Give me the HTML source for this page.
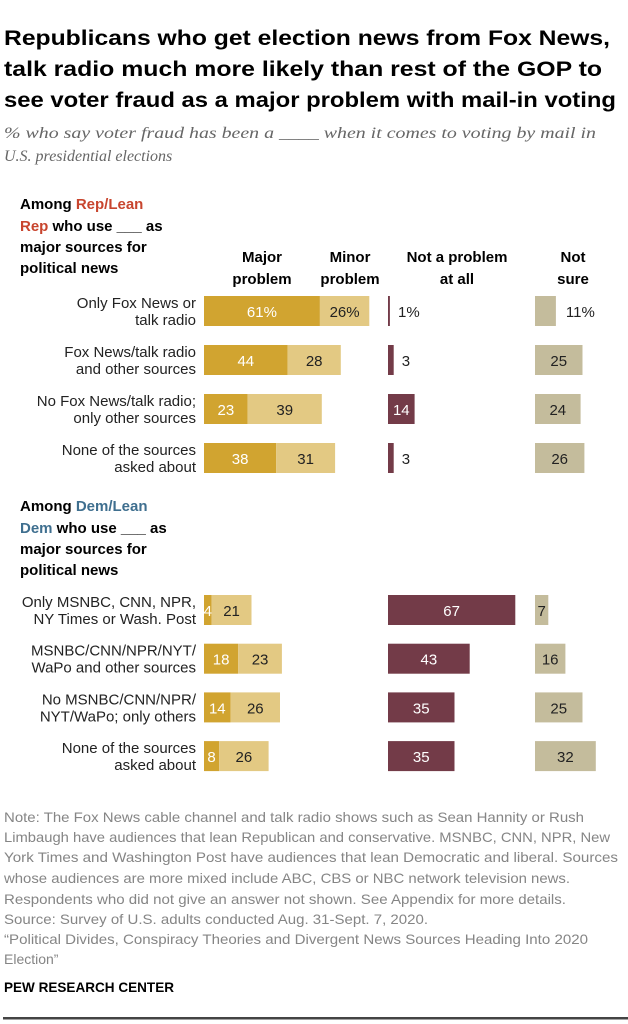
<!DOCTYPE html>
<html><head><meta charset="utf-8"><style>
html,body{margin:0;padding:0;background:#fff;}
svg{display:block;font-family:"Liberation Sans",sans-serif;}
</style></head><body>
<svg id="chart" width="628" height="1024" viewBox="0 0 628 1024">
<g font-weight="bold" font-size="21" fill="#000">
<text x="4" y="45" textLength="606" lengthAdjust="spacingAndGlyphs">Republicans who get election news from Fox News,</text>
<text x="4" y="76" textLength="598" lengthAdjust="spacingAndGlyphs">talk radio much more likely than rest of the GOP to</text>
<text x="4" y="107" textLength="612" lengthAdjust="spacingAndGlyphs">see voter fraud as a major problem with mail-in voting</text>
</g>
<g font-family="Liberation Serif,serif" font-style="italic" font-size="16" fill="#666">
<text x="4" y="138" textLength="592" lengthAdjust="spacingAndGlyphs">% who say voter fraud has been a ____ when it comes to voting by mail in</text>
<text x="4" y="161">U.S. presidential elections</text>
</g>
<g font-weight="bold" font-size="15" fill="#000">
<text x="20" y="209">Among <tspan fill="#c8452e">Rep/Lean</tspan></text>
<text x="20" y="231"><tspan fill="#c8452e">Rep</tspan> who use ___ as</text>
<text x="20" y="252">major sources for</text>
<text x="20" y="273">political news</text>
</g>
<g font-weight="bold" font-size="15" fill="#000">
<text x="20" y="511">Among <tspan fill="#3f6f8f">Dem/Lean</tspan></text>
<text x="20" y="533"><tspan fill="#3f6f8f">Dem</tspan> who use ___ as</text>
<text x="20" y="554">major sources for</text>
<text x="20" y="575">political news</text>
</g>
<g font-weight="bold" font-size="15" fill="#000" text-anchor="middle">
<text x="262" y="262">Major</text><text x="262" y="284">problem</text>
<text x="350" y="262">Minor</text><text x="350" y="284">problem</text>
<text x="457" y="262">Not a problem</text><text x="457" y="284">at all</text>
<text x="573" y="262">Not</text><text x="573" y="284">sure</text>
</g>
<g id="bars"></g>
<g font-size="14" fill="#858585">
<text x="4" y="822" textLength="580" lengthAdjust="spacingAndGlyphs">Note: The Fox News cable channel and talk radio shows such as Sean Hannity or Rush</text>
<text x="4" y="842" textLength="606" lengthAdjust="spacingAndGlyphs">Limbaugh have audiences that lean Republican and conservative. MSNBC, CNN, NPR, New</text>
<text x="4" y="862" textLength="614" lengthAdjust="spacingAndGlyphs">York Times and Washington Post have audiences that lean Democratic and liberal. Sources</text>
<text x="4" y="883" textLength="566" lengthAdjust="spacingAndGlyphs">whose audiences are more mixed include ABC, CBS or NBC network television news.</text>
<text x="4" y="904" textLength="562" lengthAdjust="spacingAndGlyphs">Respondents who did not give an answer not shown. See Appendix for more details.</text>
<text x="4" y="924" textLength="424" lengthAdjust="spacingAndGlyphs">Source: Survey of U.S. adults conducted Aug. 31-Sept. 7, 2020.</text>
<text x="4" y="944" textLength="584" lengthAdjust="spacingAndGlyphs">“Political Divides, Conspiracy Theories and Divergent News Sources Heading Into 2020</text>
<text x="4" y="964">Election”</text>
</g>
<text x="4" y="992" font-weight="bold" font-size="14" fill="#000" textLength="170" lengthAdjust="spacingAndGlyphs">PEW RESEARCH CENTER</text>
<rect x="3" y="1017" width="625" height="2.5" fill="#444"/>
</svg>
<script>
const labels1 = ["Only Fox News or|talk radio","Fox News/talk radio|and other sources","No Fox News/talk radio;|only other sources","None of the sources|asked about"];
const labels2 = ["Only MSNBC, CNN, NPR,|NY Times or Wash. Post","MSNBC/CNN/NPR/NYT/|WaPo and other sources","No MSNBC/CNN/NPR/|NYT/WaPo; only others","None of the sources|asked about"];
const majorVals = [61,44,23,38,4,18,14,8];
const minorVals = [26,28,39,31,21,23,26,26];
const notProbVals = [1,3,14,3,67,43,35,35];
const notSureVals = [11,25,24,26,7,16,25,32];
const rowLabels = labels1.concat(labels2);
const NS='http://www.w3.org/2000/svg';
const g=document.getElementById('bars');
const k=1.9;
const xNP=388, xNS=535;
const rowY=i=>i<4?296+i*49:595+(i-4)*48.7;
const bh=30;
function mk(tag,attrs,parent){const e=document.createElementNS(NS,tag);for(const a in attrs)e.setAttribute(a,attrs[a]);(parent||g).appendChild(e);return e;}
function txt(x,y,s,fill,anchor){const t=mk('text',{x:x,y:y,fill:fill,'font-size':15,'text-anchor':anchor||'middle'});t.textContent=s;return t;}
for(let i=0;i<8;i++){
  const y=rowY(i);
  const pct=i===0?'%':'';
  const parts=rowLabels[i].split('|');
  const l1=txt(196,y+12,parts[0],'#222','end');
  
  
  const l2=txt(196,y+29,parts[1],'#222','end');
  
  
  const wm=majorVals[i]*k, wn=minorVals[i]*k;
  const r1=mk('rect',{x:204,y:y,width:wm,height:bh,fill:'#d1a430'});
  
  
  txt(204+wm/2,y+21,majorVals[i]+pct,'#fff');
  const r2=mk('rect',{x:204+wm,y:y,width:wn,height:bh,fill:'#e3c983'});
  
  
  txt(204+wm+wn/2,y+21,minorVals[i]+pct,'#222');
  const wp=notProbVals[i]*k;
  const r3=mk('rect',{x:xNP,y:y,width:Math.max(wp,1.5),height:bh,fill:'#733b48'});
  
  
  if(wp<20) txt(xNP+Math.max(wp,2)+8,y+21,notProbVals[i]+pct,'#222','start');
  else txt(xNP+wp/2,y+21,notProbVals[i]+pct,'#fff');
  const ws=notSureVals[i]*k;
  const r4=mk('rect',{x:xNS,y:y,width:ws,height:bh,fill:'#c4bc9c'});
  
  
  if(pct&&ws<30) txt(xNS+ws+10,y+21,notSureVals[i]+pct,'#222','start');
  else txt(xNS+ws/2,y+21,notSureVals[i]+pct,'#222');
}
</script>
</body></html>
